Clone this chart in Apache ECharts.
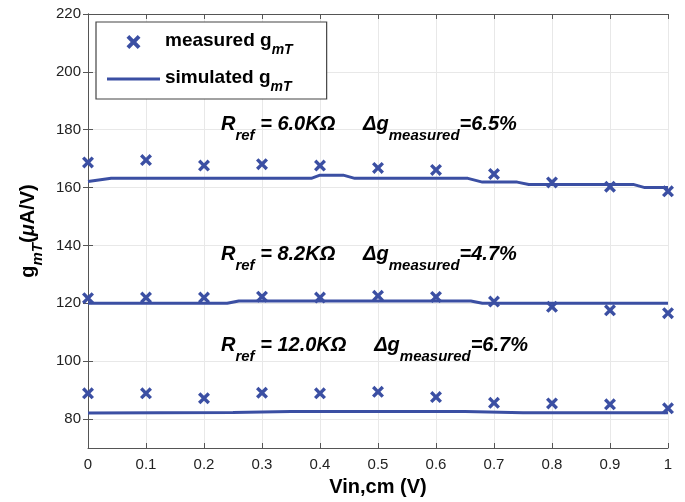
<!DOCTYPE html>
<html>
<head>
<meta charset="utf-8">
<script src="https://cdn.jsdelivr.net/npm/echarts@6/dist/echarts.min.js"></script>
<style>html,body{margin:0;padding:0;background:#fff}#c{width:685px;height:502px}</style>
</head>
<body>
<div id="c"></div>
<script>
var vin = [0, 0.1, 0.2, 0.3, 0.4, 0.5, 0.6, 0.7, 0.8, 0.9, 1.0];
var meas6k0 = [168.7, 169.5, 167.6, 168.1, 167.6, 166.8, 166.1, 164.7, 161.8, 160.3, 158.7];
var meas8k2 = [121.8, 122.0, 122.0, 122.3, 122.0, 122.6, 122.2, 120.6, 118.8, 117.6, 116.6];
var meas12k = [88.9, 88.9, 87.2, 89.1, 88.9, 89.4, 87.6, 85.6, 85.4, 85.1, 83.7];
var sim6k0X = [0, 0.04, 0.385, 0.40, 0.44, 0.46, 0.655, 0.68, 0.74, 0.76, 0.94, 0.96, 1.0];
var sim6k0Y = [162.1, 163.2, 163.2, 164.3, 164.3, 163.2, 163.2, 161.9, 161.9, 161.1, 161.1, 160.0, 160.0];
var sim8k2X = [0, 0.24, 0.26, 0.66, 0.68, 1.0];
var sim8k2Y = [120.0, 120.0, 120.8, 120.8, 120.0, 120.0];
var sim12kX = [0, 0.25, 0.35, 0.65, 0.75, 1.0];
var sim12kY = [82.1, 82.3, 82.6, 82.6, 82.2, 82.2];
var yTicks = [80, 100, 120, 140, 160, 180, 200, 220];
var notes = [
  {r: '6.0', d: '6.5', y: 114},
  {r: '8.2', d: '4.7', y: 244},
  {r: '12.0', d: '6.7', y: 335}
];

var BLUE = '#3b4fa3';
var FONT = '"Liberation Sans", Arial, sans-serif';
var XSYM = 'path://M0,2L2,0L5,3L8,0L10,2L7,5L10,8L8,10L5,7L2,10L0,8L3,5Z';
var LINEICON = 'path://M0,0L53,0L53,3L0,3Z';

function pairs(xs, ys) { return xs.map(function (x, i) { return [x, ys[i]]; }); }

var chart = echarts.init(document.getElementById('c'));
var axisLine = {show: true, lineStyle: {color: '#555', width: 1}};
var tick = {show: true, inside: true, length: 5, lineStyle: {color: '#555'}};

var series = [];
[meas6k0, meas8k2, meas12k].forEach(function (m) {
  series.push({type: 'scatter', name: 'measured', data: pairs(vin, m), symbol: XSYM, symbolSize: 12,
    itemStyle: {color: BLUE, opacity: 1}, z: 4});
});
[[sim6k0X, sim6k0Y], [sim8k2X, sim8k2Y], [sim12kX, sim12kY]].forEach(function (s) {
  series.push({type: 'line', name: 'simulated', data: pairs(s[0], s[1]), symbol: 'none', showSymbol: false,
    lineStyle: {color: BLUE, width: 3}, itemStyle: {color: BLUE}, z: 3});
});

var richNote = {
  m: {fontSize: 20, fontWeight: 'bold', fontStyle: 'italic', fontFamily: FONT, color: '#000', lineHeight: 22, verticalAlign: 'top'},
  s: {fontSize: 15, fontWeight: 'bold', fontStyle: 'italic', fontFamily: FONT, color: '#000', lineHeight: 18, padding: [14, 0, 0, 0], verticalAlign: 'top'}
};
var graphics = notes.map(function (n) {
  return {type: 'text', left: 221, top: n.y, z: 10,
    style: {text: '{m|R}{s|ref}{m| = ' + n.r + 'K\u03A9     \u0394g}{s|measured}{m|=' + n.d + '%}', rich: richNote}};
});

chart.setOption({
  animation: false,
  backgroundColor: '#fff',
  grid: {left: 88, right: 17, top: 14, bottom: 54, containLabel: false},
  legend: {
    left: 96, top: 22, orient: 'vertical',
    data: [{name: 'measured'}, {name: 'simulated', icon: LINEICON, itemStyle: {color: BLUE, borderWidth: 0}}],
    symbolKeepAspect: true,
    backgroundColor: '#fff', borderColor: '#444', borderWidth: 1.2, borderRadius: 0,
    padding: [9, 34, 5, 11], itemGap: 11, itemWidth: 53, itemHeight: 14,
    formatter: function (n) { return '{a|' + n + ' g}{s|mT}'; },
    textStyle: {rich: {
      a: {fontSize: 19, fontWeight: 'bold', fontFamily: FONT, color: '#000', lineHeight: 22, verticalAlign: 'top'},
      s: {fontSize: 14, fontWeight: 'bold', fontStyle: 'italic', fontFamily: FONT, color: '#000', lineHeight: 16, padding: [12, 0, 0, 0], verticalAlign: 'top'}
    }}
  },
  xAxis: [
    {type: 'value', min: 0, max: 1, interval: 0.1, position: 'bottom',
      name: 'Vin,cm (V)', nameLocation: 'middle', nameGap: 29,
      nameTextStyle: {fontSize: 20, fontWeight: 'bold', fontFamily: FONT, color: '#000'},
      axisLine: axisLine, axisTick: tick,
      axisLabel: {fontSize: 15, fontFamily: FONT, color: '#222', margin: 9,
        formatter: function (v) { return String(+v.toFixed(1)); }},
      splitLine: {show: true, lineStyle: {color: '#e8e8e8', width: 1}}},
    {type: 'value', min: 0, max: 1, interval: 0.1, position: 'top',
      axisLine: axisLine, axisTick: tick, axisLabel: {show: false}, splitLine: {show: false}}
  ],
  yAxis: [
    {type: 'value', min: 70, max: 220, position: 'left',
      name: '{a|g}{s|mT}{a|(}{i|\u03BC}{a|A/V)}', nameLocation: 'middle', nameGap: 46,
      nameTextStyle: {rich: {
        a: {fontSize: 20, fontWeight: 'bold', fontFamily: FONT, color: '#000', lineHeight: 22, verticalAlign: 'top'},
        i: {fontSize: 20, fontWeight: 'bold', fontStyle: 'italic', fontFamily: FONT, color: '#000', lineHeight: 22, verticalAlign: 'top'},
        s: {fontSize: 15, fontWeight: 'bold', fontStyle: 'italic', fontFamily: FONT, color: '#000', lineHeight: 16, padding: [12, 0, 0, 0], verticalAlign: 'top'}
      }},
      axisLine: axisLine,
      axisTick: {show: true, inside: true, length: 5, lineStyle: {color: '#555'}, customValues: yTicks},
      axisLabel: {fontSize: 15, fontFamily: FONT, color: '#222', margin: 7, customValues: yTicks},
      splitLine: {show: true, lineStyle: {color: '#e8e8e8', width: 1}}},
    {type: 'value', min: 70, max: 220, position: 'right',
      axisLine: axisLine,
      axisTick: {show: true, inside: true, length: 5, lineStyle: {color: '#555'}, customValues: yTicks},
      axisLabel: {show: false, customValues: yTicks}, splitLine: {show: false}}
  ],
  graphic: graphics,
  series: series
});
</script>
</body>
</html>
